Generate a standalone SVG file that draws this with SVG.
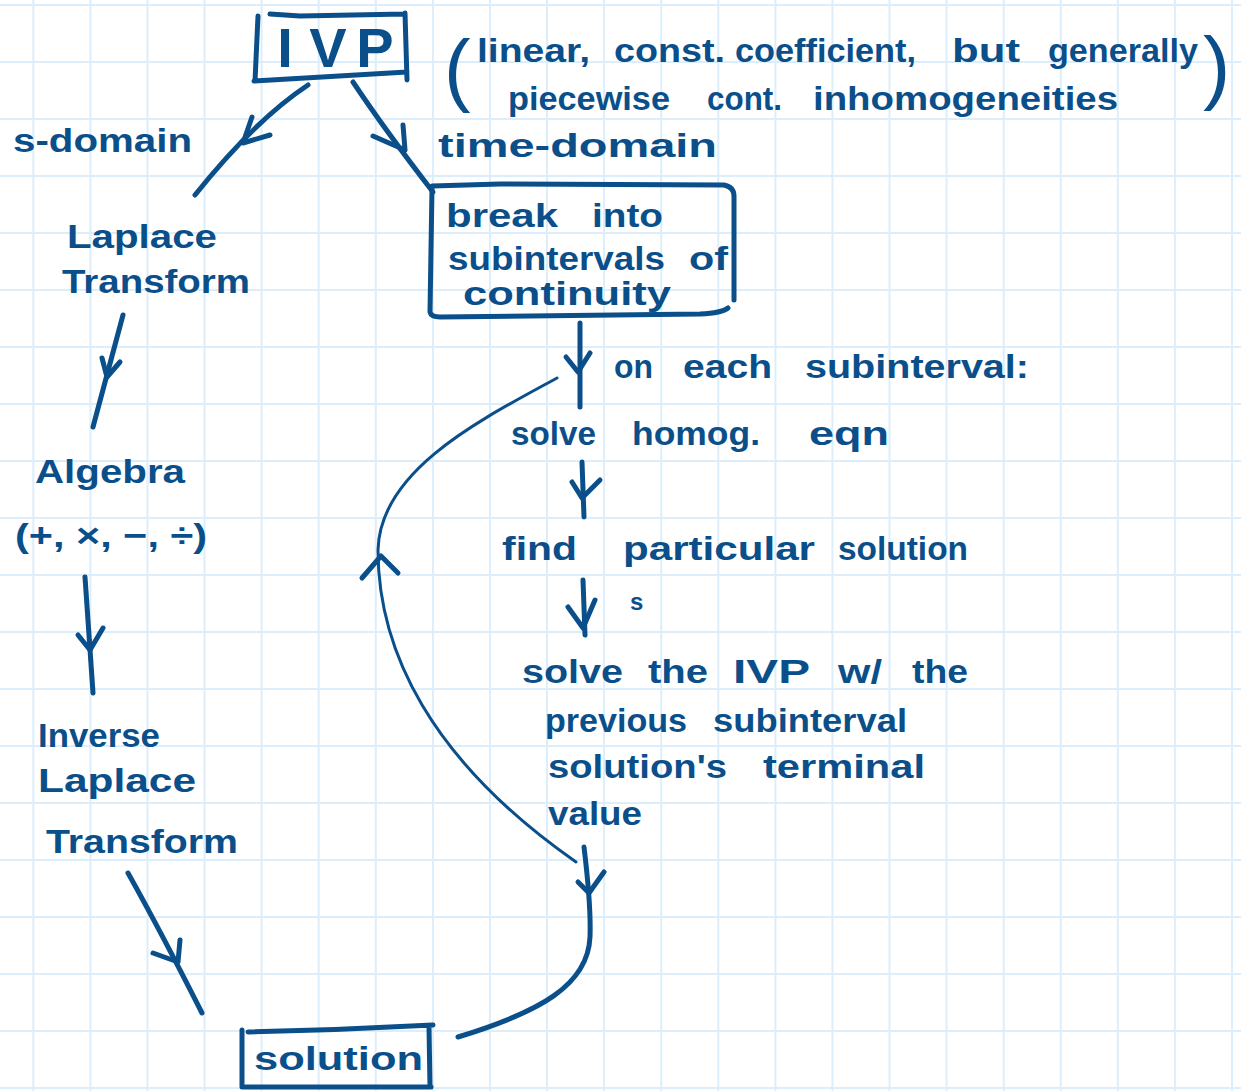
<svg xmlns="http://www.w3.org/2000/svg" width="1241" height="1091" viewBox="0 0 1241 1091">
<style>
.t{font-family:"Liberation Sans",Arial,sans-serif;font-weight:bold;font-size:34px;fill:#0b4f8a}
.ink{fill:none;stroke:#0b4f8a;stroke-width:5;stroke-linecap:round;stroke-linejoin:round}
.thin{fill:none;stroke:#0b4f8a;stroke-width:3;stroke-linecap:round;stroke-linejoin:round}
.grid{fill:none;stroke:#dceefb;stroke-width:2}
</style>
<rect width="1241" height="1091" fill="#ffffff"/>
<path class="grid" d="M33.3,0V1091M90.4,0V1091M147.5,0V1091M204.5,0V1091M261.6,0V1091M318.7,0V1091M375.8,0V1091M432.9,0V1091M490,0V1091M547,0V1091M604.1,0V1091M661.2,0V1091M718.3,0V1091M775.4,0V1091M832.4,0V1091M889.5,0V1091M946.6,0V1091M1003.7,0V1091M1060.8,0V1091M1117.8,0V1091M1174.9,0V1091M1232,0V1091M0,5H1241M0,62H1241M0,119H1241M0,176H1241M0,233H1241M0,290H1241M0,347H1241M0,404H1241M0,461H1241M0,518H1241M0,575H1241M0,632H1241M0,689H1241M0,746H1241M0,803H1241M0,860H1241M0,917H1241M0,974H1241M0,1031H1241M0,1088H1241"/>

<g id="connectors">
  <path class="ink" d="M308,85 Q255,120 195,195"/>
  <path class="ink" d="M252,117 L243,143 L270,135"/>
  <path class="ink" d="M353,82 Q385,130 433,192"/>
  <path class="ink" d="M403,125 L405,150 M373,136 L405,150"/>
  <path class="ink" d="M580,323 L580,407"/>
  <path class="ink" d="M566,357 L578,372 L590,353"/>
  <path class="thin" d="M557,378 C480,420 380,470 378,550 C378,650 430,760 576,862"/>
  <path class="ink" d="M362,578 L381,556 L398,573"/>
  <path class="ink" d="M582,462 L584,517"/>
  <path class="ink" d="M572,482 L582,498 L600,480"/>
  <path class="ink" d="M583,580 L585,635"/>
  <path class="ink" d="M568,607 L583,628 L595,600"/>
  <path class="ink" d="M584,847 C588,880 591,910 590,937 C588,985 540,1012 458,1037"/>
  <path class="ink" d="M578,882 L589,893 L604,872"/>
  <path class="ink" d="M123,315 L93,427"/>
  <path class="ink" d="M102,358 L107,377 L120,362"/>
  <path class="ink" d="M85,577 L93,693"/>
  <path class="ink" d="M78,635 L90,650 L103,628"/>
  <path class="ink" d="M128,873 Q160,930 202,1013"/>
  <path class="ink" d="M153,953 L178,962 L180,940"/>
</g>

<g id="ivp">
  <path class="ink" d="M270,14 L300,16 L405,14 M258,16 L255,81 M254,81 L407,72 M405,13 L407,80"/>
  <text class="t" x="285 328 375" y="67" text-anchor="middle" style="font-size:56px">IVP</text>
</g>

<g id="note">
  <text class="t" x="444" y="96" style="font-size:80px;font-weight:normal">(</text>
  <text class="t" x="1203" y="94" style="font-size:82px;font-weight:normal">)</text>
  <text class="t" x="477" y="62" textLength="113" lengthAdjust="spacingAndGlyphs">linear,</text>
  <text class="t" x="614" y="62" textLength="111" lengthAdjust="spacingAndGlyphs">const.</text>
  <text class="t" x="735" y="62" textLength="181" lengthAdjust="spacingAndGlyphs">coefficient,</text>
  <text class="t" x="952" y="62" textLength="68" lengthAdjust="spacingAndGlyphs">but</text>
  <text class="t" x="1048" y="62" textLength="150" lengthAdjust="spacingAndGlyphs">generally</text>
  <text class="t" x="508" y="110" textLength="162" lengthAdjust="spacingAndGlyphs">piecewise</text>
  <text class="t" x="707" y="110" textLength="75" lengthAdjust="spacingAndGlyphs">cont.</text>
  <text class="t" x="813" y="110" textLength="305" lengthAdjust="spacingAndGlyphs">inhomogeneities</text>
</g>

<g id="label-s-domain">
  <text class="t" x="13" y="152" textLength="179" lengthAdjust="spacingAndGlyphs">s-domain</text>
</g>
<g id="label-time-domain">
  <text class="t" x="438" y="157" textLength="279" lengthAdjust="spacingAndGlyphs">time-domain</text>
</g>

<g id="laplace">
  <text class="t" x="67" y="248" textLength="150" lengthAdjust="spacingAndGlyphs">Laplace</text>
  <text class="t" x="62" y="293" textLength="188" lengthAdjust="spacingAndGlyphs">Transform</text>
</g>

<g id="algebra">
  <text class="t" x="35" y="483" textLength="150" lengthAdjust="spacingAndGlyphs">Algebra</text>
  <text class="t" x="15" y="547" textLength="192" lengthAdjust="spacingAndGlyphs">(+, ×, −, ÷)</text>
</g>

<g id="inverse">
  <text class="t" x="38" y="747" textLength="122" lengthAdjust="spacingAndGlyphs">Inverse</text>
  <text class="t" x="38" y="792" textLength="158" lengthAdjust="spacingAndGlyphs">Laplace</text>
  <text class="t" x="46" y="853" textLength="192" lengthAdjust="spacingAndGlyphs">Transform</text>
</g>

<g id="solution">
  <path class="ink" d="M248,1032 Q340,1030 433,1025 M242,1030 L242,1087 M242,1087 L431,1087 M429,1027 L430,1087"/>
  <text class="t" x="254" y="1070" textLength="169" lengthAdjust="spacingAndGlyphs">solution</text>
</g>

<g id="break">
  <path class="ink" d="M432,186 L500,184 L724,185 Q734,187 734,196 L734,300 M432,188 L430,312 Q431,317 440,317 L700,314 Q722,313 728,308"/>
  <text class="t" x="446" y="227" textLength="112" lengthAdjust="spacingAndGlyphs">break</text>
  <text class="t" x="592" y="227" textLength="71" lengthAdjust="spacingAndGlyphs">into</text>
  <text class="t" x="448" y="270" textLength="217" lengthAdjust="spacingAndGlyphs">subintervals</text>
  <text class="t" x="689" y="270" textLength="39" lengthAdjust="spacingAndGlyphs">of</text>
  <text class="t" x="463" y="305" textLength="208" lengthAdjust="spacingAndGlyphs">continuity</text>
</g>

<g id="label-on-each">
  <text class="t" x="614" y="378" textLength="39" lengthAdjust="spacingAndGlyphs">on</text>
  <text class="t" x="683" y="378" textLength="89" lengthAdjust="spacingAndGlyphs">each</text>
  <text class="t" x="805" y="378" textLength="224" lengthAdjust="spacingAndGlyphs">subinterval:</text>
</g>

<g id="solve-homog">
  <text class="t" x="511" y="445" textLength="85" lengthAdjust="spacingAndGlyphs">solve</text>
  <text class="t" x="632" y="445" textLength="128" lengthAdjust="spacingAndGlyphs">homog.</text>
  <text class="t" x="809" y="445" textLength="80" lengthAdjust="spacingAndGlyphs">eqn</text>
</g>

<g id="find-particular">
  <text class="t" x="502" y="560" textLength="75" lengthAdjust="spacingAndGlyphs">find</text>
  <text class="t" x="623" y="560" textLength="192" lengthAdjust="spacingAndGlyphs">particular</text>
  <text class="t" x="838" y="560" textLength="130" lengthAdjust="spacingAndGlyphs">solution</text>
  <text class="t" x="630" y="610" style="font-size:24px">s</text>
</g>

<g id="solve-ivp">
  <text class="t" x="522" y="683" textLength="101" lengthAdjust="spacingAndGlyphs">solve</text>
  <text class="t" x="648" y="683" textLength="60" lengthAdjust="spacingAndGlyphs">the</text>
  <text class="t" x="733" y="683" textLength="77" lengthAdjust="spacingAndGlyphs">IVP</text>
  <text class="t" x="838" y="683" textLength="44" lengthAdjust="spacingAndGlyphs">w/</text>
  <text class="t" x="912" y="683" textLength="56" lengthAdjust="spacingAndGlyphs">the</text>
  <text class="t" x="545" y="732" textLength="142" lengthAdjust="spacingAndGlyphs">previous</text>
  <text class="t" x="713" y="732" textLength="194" lengthAdjust="spacingAndGlyphs">subinterval</text>
  <text class="t" x="548" y="778" textLength="179" lengthAdjust="spacingAndGlyphs">solution's</text>
  <text class="t" x="763" y="778" textLength="162" lengthAdjust="spacingAndGlyphs">terminal</text>
  <text class="t" x="548" y="825" textLength="94" lengthAdjust="spacingAndGlyphs">value</text>
</g>
</svg>
